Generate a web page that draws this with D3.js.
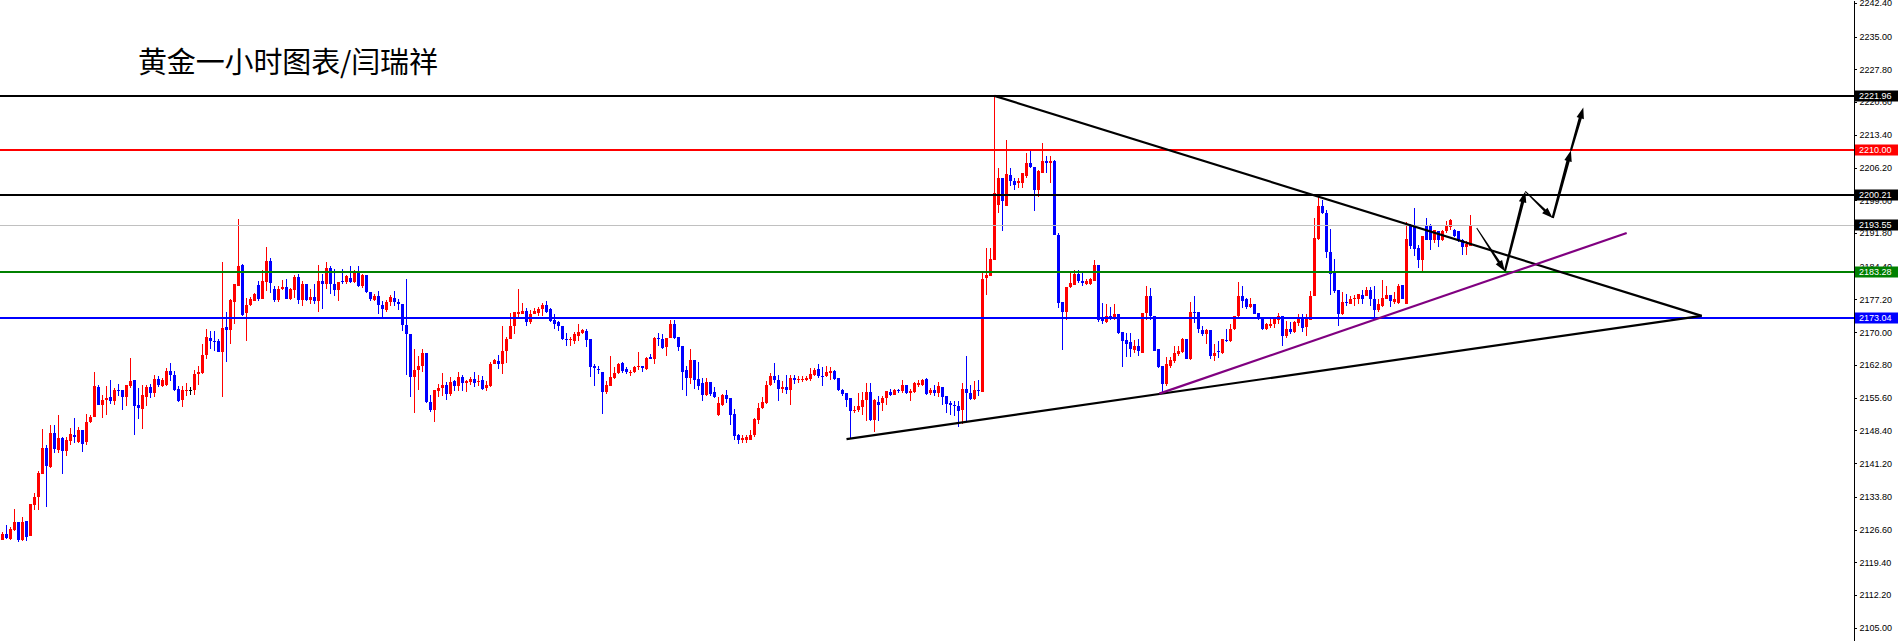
<!DOCTYPE html>
<html><head><meta charset="utf-8">
<script src="https://cdn.jsdelivr.net/npm/d3@7"></script>
<style>html,body{margin:0;padding:0;background:#fff;overflow:hidden}</style>
</head><body>
<svg id="chart" width="1898" height="641"></svg>
<script>
const title = "黄金一小时图表/闫瑞祥";

const opens = [
2124.3,2125.7,2124.6,2126.6,2128.2,2124.4,2128.4,2125.1,2131.9,2133.7,
2138.9,2144.6,2140.4,2147.9,2144.2,2146.8,2143.8,2146.0,2147.5,2145.8,
2148.6,2145.8,2150.2,2151.4,2158.0,2154.0,2155.0,2155.8,2154.8,2157.4,
2157.4,2155.8,2158.1,2159.4,2153.9,2153.2,2155.8,2158.0,2156.6,2159.7,
2158.1,2158.5,2161.5,2160.7,2157.5,2155.2,2157.2,2157.2,2157.2,2160.9,
2161.0,2164.9,2168.7,2168.0,2168.1,2165.6,2171.1,2170.4,2176.7,2180.2,
2184.8,2174.2,2176.0,2176.9,2180.4,2177.2,2181.0,2185.6,2179.6,2177.0,
2179.4,2179.9,2177.3,2179.2,2182.1,2177.0,2180.5,2177.0,2177.7,2176.8,
2181.3,2180.7,2184.1,2180.7,2179.2,2181.2,2181.0,2181.9,2181.0,2183.4,
2180.1,2182.6,2178.8,2177.0,2178.0,2176.0,2174.9,2176.6,2177.5,2176.6,
2176.2,2171.6,2169.5,2160.2,2161.6,2162.6,2165.5,2154.7,2153.0,2157.0,
2157.7,2158.5,2156.4,2159.2,2158.1,2160.2,2158.8,2159.0,2159.7,2159.0,
2159.6,2157.7,2158.1,2163.1,2163.7,2163.1,2165.8,2168.5,2171.3,2173.9,
2174.1,2174.7,2172.2,2174.0,2174.2,2175.0,2176.0,2175.0,2172.6,2172.2,
2171.4,2168.6,2168.4,2168.0,2169.2,2169.8,2170.3,2168.4,2162.6,2162.0,
2161.3,2156.8,2158.2,2159.9,2161.0,2163.2,2161.9,2161.2,2161.2,2162.3,
2162.5,2161.9,2164.6,2164.0,2168.7,2168.6,2166.7,2168.7,2171.7,2168.9,
2166.9,2161.6,2159.9,2163.9,2159.7,2158.8,2156.3,2159.1,2156.9,2151.9,
2154.1,2156.1,2155.5,2152.1,2147.5,2146.2,2146.4,2146.4,2147.3,2150.8,
2153.3,2154.4,2158.3,2160.3,2159.6,2157.5,2157.9,2157.4,2159.9,2159.4,
2159.4,2159.6,2159.7,2160.7,2162.0,2160.4,2160.3,2161.0,2161.4,2159.9,
2157.4,2156.6,2155.5,2152.6,2152.8,2153.6,2155.0,2156.8,2150.8,2154.6,
2154.4,2155.5,2156.8,2156.3,2157.4,2157.0,2158.5,2156.6,2156.8,2158.5,
2158.5,2159.7,2156.6,2157.2,2156.6,2157.9,2155.9,2154.4,2154.1,2153.7,
2152.8,2157.5,2156.6,2155.3,2157.4,2156.8,2181.9,2182.4,2185.9,2198.0,
2203.9,2197.7,2204.6,2203.3,2202.8,2202.8,2204.3,2207.2,2206.4,2201.2,
2205.1,2207.6,2207.3,2207.6,2191.4,2176.6,2174.4,2179.9,2180.4,2182.9,
2181.3,2180.7,2180.7,2181.3,2184.8,2173.0,2172.2,2173.5,2172.9,2174.0,
2170.0,2168.2,2167.8,2166.0,2167.0,2165.4,2174.2,2177.9,2173.5,2166.2,
2162.5,2158.7,2162.6,2163.6,2165.1,2165.6,2168.4,2164.1,2174.4,2174.4,
2170.4,2169.5,2170.4,2164.7,2165.8,2165.4,2168.2,2168.0,2170.6,2173.5,
2178.0,2177.2,2175.5,2176.1,2174.2,2173.1,2170.6,2171.4,2171.7,2172.6,
2173.6,2169.1,2170.6,2170.0,2172.0,2172.9,2171.1,2172.6,2177.9,2190.5,
2197.7,2196.2,2187.6,2183.0,2179.2,2173.9,2176.6,2176.3,2177.3,2177.3,
2178.2,2178.0,2179.3,2177.2,2174.8,2175.7,2177.3,2178.2,2176.6,2176.4,
2180.4,2176.3,2193.6,2193.6,2188.5,2185.8,2193.4,2193.3,2190.2,2192.2,
2190.2,2192.2,2193.1,2192.4,2192.2,2190.3,2188.7,2189.0];

const highs = [
2126.0,2127.7,2127.2,2131.1,2128.2,2129.4,2128.4,2132.3,2134.7,2139.4,
2148.8,2145.3,2149.5,2149.5,2151.9,2147.0,2147.0,2149.0,2151.1,2149.1,
2148.6,2152.0,2151.9,2161.2,2158.5,2156.3,2158.1,2159.6,2157.7,2158.7,
2157.4,2158.5,2164.4,2159.6,2157.7,2158.5,2158.4,2158.7,2160.7,2160.3,
2159.9,2162.1,2163.2,2161.4,2158.1,2158.1,2158.8,2158.0,2161.8,2162.5,
2167.3,2170.7,2170.3,2170.2,2168.4,2185.4,2174.5,2177.3,2180.7,2195.0,
2185.0,2177.5,2177.7,2178.6,2181.3,2183.7,2188.8,2186.3,2180.2,2180.2,
2181.4,2181.6,2179.7,2182.6,2182.9,2181.3,2180.5,2179.4,2180.5,2184.8,
2182.9,2185.5,2184.5,2183.9,2181.1,2183.9,2182.6,2184.6,2183.7,2184.5,
2182.9,2182.6,2178.8,2178.5,2179.0,2176.9,2177.0,2178.2,2179.0,2177.4,
2176.2,2181.8,2169.7,2166.2,2164.7,2166.2,2165.5,2156.3,2157.2,2158.7,
2161.0,2159.0,2160.2,2159.6,2161.3,2160.5,2159.6,2160.2,2161.3,2160.5,
2160.3,2159.2,2163.4,2164.1,2165.0,2171.4,2168.9,2174.2,2174.5,2179.6,
2176.4,2175.3,2174.8,2175.3,2175.5,2176.4,2176.8,2175.3,2174.0,2172.4,
2171.4,2169.8,2168.9,2170.0,2171.7,2170.7,2170.6,2168.4,2163.1,2162.5,
2161.3,2159.2,2164.8,2162.3,2163.2,2163.4,2162.3,2161.8,2162.5,2165.7,
2162.5,2164.6,2165.3,2168.9,2169.8,2169.5,2168.7,2172.6,2172.6,2169.0,
2167.0,2162.5,2166.4,2163.9,2163.4,2159.9,2159.9,2159.1,2158.0,2155.8,
2156.5,2157.2,2155.5,2153.2,2147.6,2147.5,2147.5,2148.6,2151.1,2154.4,
2155.8,2159.2,2161.0,2163.2,2160.7,2159.2,2160.7,2160.7,2160.7,2160.3,
2160.3,2160.3,2162.1,2162.1,2162.9,2162.4,2162.5,2162.4,2161.8,2159.9,
2157.5,2156.6,2155.5,2153.7,2156.6,2156.8,2158.8,2158.8,2155.3,2155.9,
2155.9,2157.0,2157.5,2157.5,2157.5,2159.4,2158.5,2157.5,2159.0,2159.4,
2159.7,2159.9,2157.7,2158.3,2159.1,2157.9,2155.9,2154.8,2154.8,2154.8,
2158.8,2164.7,2158.5,2159.2,2159.4,2183.5,2188.5,2188.5,2221.96,2206.1,
2203.9,2212.3,2206.1,2203.9,2203.9,2205.1,2209.4,2209.8,2206.4,2205.7,
2211.7,2208.8,2208.8,2207.9,2191.8,2176.6,2179.9,2183.4,2183.7,2183.6,
2183.0,2181.7,2181.9,2185.9,2184.8,2176.4,2176.1,2175.5,2176.1,2174.0,
2170.0,2169.8,2169.8,2168.2,2168.4,2174.2,2180.1,2179.7,2173.5,2166.2,
2162.5,2164.6,2164.6,2167.0,2166.9,2168.7,2168.4,2176.6,2178.0,2174.4,
2171.4,2170.6,2170.4,2167.3,2168.0,2168.5,2170.7,2171.7,2173.6,2181.0,
2180.2,2177.5,2177.5,2176.3,2174.2,2173.1,2172.0,2173.1,2173.1,2174.2,
2173.6,2172.4,2172.2,2172.4,2173.9,2173.9,2173.9,2179.0,2195.1,2199.7,
2199.0,2196.9,2192.7,2186.1,2179.2,2178.8,2178.5,2178.0,2178.2,2178.5,
2179.3,2179.9,2180.0,2180.2,2177.3,2181.5,2180.2,2178.2,2178.8,2180.7,
2180.4,2194.2,2193.9,2197.3,2189.2,2191.2,2195.1,2193.9,2192.5,2192.2,
2192.5,2194.4,2194.9,2192.7,2192.2,2190.5,2190.0,2195.8];

const lows = [
2124.2,2124.6,2124.4,2126.2,2123.8,2124.0,2124.0,2125.1,2131.0,2131.0,
2138.9,2131.5,2140.1,2143.5,2143.5,2138.9,2142.7,2145.3,2145.7,2145.7,
2143.6,2145.1,2150.1,2151.4,2153.9,2151.1,2151.8,2154.3,2153.9,2155.9,
2152.8,2153.7,2157.7,2147.5,2151.0,2148.8,2153.7,2155.5,2155.7,2158.0,
2157.9,2158.1,2159.2,2157.0,2154.6,2153.5,2155.9,2156.1,2156.1,2158.5,
2160.9,2164.1,2166.2,2165.8,2165.6,2155.7,2163.4,2167.5,2171.9,2180.1,
2173.5,2168.0,2175.8,2176.8,2176.8,2177.2,2179.0,2178.6,2176.6,2176.6,
2179.2,2177.2,2177.0,2177.5,2176.3,2175.7,2176.8,2176.3,2176.3,2174.4,
2175.2,2179.6,2178.3,2177.9,2176.8,2180.5,2180.7,2180.8,2180.8,2179.9,
2179.7,2178.6,2176.8,2176.8,2173.9,2173.1,2174.4,2175.7,2175.8,2174.9,
2170.2,2160.7,2155.8,2152.2,2157.2,2161.2,2154.4,2152.5,2150.2,2155.7,
2155.9,2155.2,2156.0,2157.0,2157.0,2157.0,2156.8,2158.4,2158.0,2158.1,
2157.4,2157.0,2158.0,2162.9,2161.9,2160.9,2163.2,2168.4,2169.5,2172.8,
2173.9,2171.3,2171.9,2173.9,2173.6,2173.6,2174.2,2172.2,2170.8,2170.3,
2168.2,2167.0,2167.0,2167.5,2168.0,2169.7,2166.7,2160.1,2158.1,2160.9,
2152.1,2156.5,2158.2,2159.7,2160.9,2161.0,2160.9,2160.4,2161.0,2161.8,
2161.2,2161.6,2164.0,2163.1,2166.9,2166.3,2164.8,2168.7,2168.4,2165.8,
2157.2,2156.0,2158.7,2157.5,2157.4,2154.8,2156.0,2155.9,2155.5,2151.5,
2153.7,2154.4,2149.7,2146.2,2145.5,2145.7,2145.7,2146.2,2147.0,2149.9,
2153.1,2154.3,2158.2,2158.8,2154.9,2156.6,2156.5,2154.1,2158.7,2158.8,
2159.0,2159.2,2159.2,2160.3,2159.9,2158.1,2160.2,2159.6,2159.6,2157.0,
2155.9,2153.6,2146.5,2152.2,2152.4,2151.9,2150.4,2150.4,2148.0,2150.4,
2152.6,2154.1,2155.9,2156.1,2156.6,2156.6,2156.5,2154.8,2156.6,2157.9,
2158.2,2156.3,2156.3,2155.9,2155.8,2153.9,2152.2,2151.9,2151.5,2149.2,
2149.9,2150.4,2155.0,2155.2,2155.9,2156.8,2178.1,2182.3,2185.9,2196.2,
2192.2,2197.7,2202.2,2201.3,2201.7,2201.7,2203.9,2206.1,2196.6,2199.7,
2205.0,2205.0,2202.9,2191.4,2175.3,2166.0,2172.7,2179.7,2180.3,2180.8,
2180.2,2180.4,2180.4,2181.2,2172.2,2171.7,2172.0,2172.6,2172.7,2169.5,
2162.4,2164.6,2164.6,2165.4,2164.7,2165.4,2172.7,2172.7,2165.8,2162.1,
2156.8,2158.1,2162.1,2163.2,2164.7,2165.4,2164.0,2163.8,2172.0,2169.8,
2169.1,2167.5,2164.0,2163.6,2164.3,2165.3,2167.8,2167.8,2170.4,2173.3,
2175.3,2175.1,2175.3,2173.9,2172.6,2170.4,2170.4,2170.9,2170.9,2171.7,
2167.0,2168.7,2169.7,2169.8,2171.3,2170.0,2169.2,2172.6,2177.9,2190.3,
2196.0,2186.3,2178.1,2178.6,2171.3,2173.7,2175.7,2176.1,2175.8,2176.1,
2176.3,2177.9,2175.7,2173.1,2174.4,2175.5,2177.2,2175.5,2176.3,2176.1,
2177.2,2176.3,2188.3,2186.8,2184.1,2183.4,2190.2,2188.0,2189.6,2188.7,
2190.0,2191.8,2192.5,2190.9,2189.8,2187.0,2187.0,2188.9];

const closes = [
2125.7,2124.7,2126.8,2128.2,2124.4,2128.2,2125.0,2132.2,2133.8,2139.1,
2144.6,2140.5,2147.9,2144.3,2146.8,2143.8,2146.4,2147.6,2146.9,2148.6,
2145.5,2150.3,2151.4,2158.1,2154.1,2155.2,2155.6,2154.8,2157.4,2157.2,
2155.8,2158.3,2159.2,2153.7,2153.3,2156.1,2158.0,2156.6,2159.7,2158.3,
2159.6,2161.5,2160.5,2157.4,2154.8,2157.4,2157.4,2157.2,2160.9,2161.3,
2164.9,2168.9,2168.0,2167.9,2165.6,2171.0,2170.4,2177.0,2180.5,2184.6,
2173.7,2176.0,2177.2,2178.4,2177.2,2181.2,2185.7,2180.8,2177.0,2179.5,
2179.9,2177.3,2179.4,2182.1,2177.0,2180.5,2177.0,2177.7,2176.8,2181.3,
2180.7,2184.1,2180.5,2179.2,2181.1,2181.0,2182.4,2181.0,2183.5,2180.1,
2182.6,2178.8,2177.2,2178.0,2176.0,2175.1,2176.7,2177.7,2176.6,2176.1,
2171.6,2169.5,2160.2,2161.8,2162.6,2165.5,2154.6,2153.0,2157.2,2157.7,
2158.5,2156.5,2159.0,2158.1,2160.2,2158.8,2159.2,2159.7,2158.8,2159.3,
2157.5,2158.3,2163.1,2163.8,2163.1,2165.9,2168.6,2171.4,2174.4,2174.4,
2174.6,2172.2,2174.1,2174.6,2175.2,2176.0,2174.4,2172.4,2171.9,2171.3,
2168.4,2168.5,2168.6,2169.5,2170.0,2170.4,2168.2,2162.3,2162.1,2161.6,
2156.8,2158.5,2160.1,2161.0,2163.1,2161.4,2161.2,2161.3,2162.4,2162.5,
2162.1,2164.3,2164.1,2168.7,2168.5,2166.5,2168.7,2171.7,2168.7,2166.7,
2161.3,2159.9,2163.9,2159.6,2158.2,2156.3,2159.1,2156.5,2155.7,2154.4,
2156.1,2155.4,2151.9,2147.1,2146.2,2146.8,2147.0,2147.5,2150.9,2153.3,
2154.6,2158.5,2160.3,2159.4,2157.5,2157.9,2157.4,2159.9,2159.6,2159.7,
2159.8,2159.9,2160.9,2161.8,2160.3,2160.2,2161.2,2161.4,2159.8,2157.2,
2156.4,2155.2,2152.6,2153.0,2153.7,2155.2,2156.8,2150.8,2155.2,2154.1,
2155.5,2157.0,2156.3,2157.4,2157.0,2158.5,2156.6,2157.0,2158.8,2158.8,
2159.6,2156.5,2157.2,2156.6,2158.1,2155.8,2154.3,2154.1,2153.7,2152.6,
2157.5,2156.6,2155.3,2157.4,2157.0,2181.8,2182.6,2186.1,2200.6,2204.0,
2198.8,2204.8,2203.2,2202.4,2203.2,2205.0,2207.2,2206.3,2201.2,2205.4,
2207.6,2207.3,2207.6,2191.4,2176.4,2174.4,2179.9,2180.8,2182.9,2181.2,
2180.8,2181.2,2181.6,2184.8,2172.7,2172.4,2173.5,2172.9,2174.1,2169.8,
2168.0,2167.5,2166.2,2167.0,2165.8,2174.2,2177.9,2173.5,2165.8,2162.4,
2158.7,2162.9,2163.8,2165.4,2165.8,2168.4,2164.1,2174.4,2174.2,2170.6,
2169.5,2170.4,2164.7,2165.4,2165.6,2168.4,2168.0,2170.7,2173.6,2178.0,
2176.8,2175.5,2176.1,2174.1,2172.8,2170.6,2171.7,2171.9,2172.8,2173.5,
2169.1,2170.6,2170.0,2172.2,2172.8,2170.9,2172.8,2178.0,2190.7,2197.7,
2196.2,2187.6,2182.8,2179.0,2173.9,2176.6,2176.4,2177.3,2177.6,2178.5,
2177.2,2179.3,2177.3,2174.8,2176.1,2177.5,2178.2,2176.8,2177.4,2180.2,
2177.3,2190.5,2188.9,2188.3,2185.8,2191.2,2190.3,2190.2,2192.5,2190.2,
2192.2,2193.3,2194.7,2191.2,2190.2,2188.7,2189.3,2193.3];

const tickValues = [2242.40,2235.00,2227.80,2220.60,2213.40,2206.20,2199.00,2191.80,2184.40,2177.20,
                    2170.00,2162.80,2155.60,2148.40,2141.20,2133.80,2126.60,2119.40,2112.20,2105.00];
const tickLabels = ["2242.40","2235.00","2227.80","2220.60","2213.40","2206.20","2199.00","2191.80","2184.40","2177.20",
                    "2170.00","2162.80","2155.60","2148.40","2141.20","2133.80","2126.60","2119.40","2112.20","2105.00"];

const levelValues = [2221.96, 2210.00, 2200.21, 2193.55, 2183.28, 2173.04];
const levelLabels = ["2221.96","2210.00","2200.21","2193.55","2183.28","2173.04"];

// trend lines: [bar index, price]
const trendFrom = [[248, 2221.96], [211, 2146.5], [289.2, 2156.5]];
const trendTo   = [[424.8, 2173.6], [424.8, 2173.6], [406.05, 2191.8]];

// forecast arrows: [bar index, price]
const arrowFrom = [[368.55, 2192.9], [375.6, 2183.4], [380.7, 2200.95], [387.55, 2195.1], [392.1, 2209.96]];
const arrowTo   = [[375.6, 2183.4], [380.7, 2200.95], [387.55, 2195.1], [392.1, 2209.96], [395.2, 2219.4]];

// ---------- styles ----------
const levelColors = ["#000000","#ff0000","#000000","#c0c0c0","#008000","#0000ff"];
const levelBoxColors = ["#000000","#ff0000","#000000","#000000","#008000","#0000ff"];
const levelWidths = [2,2,2,1,2,2];
const trendColors = ["#000000","#000000","#800080"];
const arrowW0 = [1, 2.2, 1, 2.4, 2.2];
const arrowW1 = [2.6, 3.2, 2.6, 3.4, 3.2];

const W = 1898, H = 641, axisX = 1853.5;
const svg = d3.select("#chart");
svg.append("rect").attr("width", W).attr("height", H).attr("fill", "#fff");

const x = d3.scaleLinear().domain([0, 367]).range([2.5, 1470.5]);
const y = d3.scaleLinear().domain([2102.1, 2243.05]).range([H, 0]);

// title
svg.append("text").attr("x", 138).attr("y", 73)
  .attr("font-family", "'Noto Sans CJK SC', 'Noto Sans', sans-serif")
  .attr("font-size", 29).attr("fill", "#000")
  .attr("textLength", 300).attr("lengthAdjust", "spacing")
  .text(title);

// candles
const data = opens.map((o, i) => ({ i, o, h: highs[i], l: lows[i], c: closes[i] }));
const colorOf = d => d.c > d.o ? "#ff0000" : (d.c < d.o ? "#0000ff" : "#000000");
const cg = svg.append("g").attr("shape-rendering", "crispEdges");
cg.selectAll("rect.wick").data(data).enter().append("rect")
  .attr("class", "wick")
  .attr("x", d => Math.round(x(d.i) - 0.5))
  .attr("y", d => Math.round(y(d.h)))
  .attr("width", 1)
  .attr("height", d => Math.max(1, Math.round(y(d.l)) - Math.round(y(d.h))))
  .attr("fill", colorOf);
cg.selectAll("rect.body").data(data).enter().append("rect")
  .attr("class", "body")
  .attr("x", d => Math.round(x(d.i) - 1.5))
  .attr("y", d => Math.round(y(Math.max(d.o, d.c))))
  .attr("width", 3)
  .attr("height", d => Math.max(1, Math.round(y(Math.min(d.o, d.c))) - Math.round(y(Math.max(d.o, d.c)))))
  .attr("fill", colorOf);

// horizontal levels
const lg = svg.append("g").attr("shape-rendering", "crispEdges");
levelValues.forEach((v, k) => {
  const yy = Math.round(y(v)) + (levelWidths[k] === 1 ? 0.5 : 0);
  lg.append("line").attr("x1", 0).attr("x2", axisX).attr("y1", yy).attr("y2", yy)
    .attr("stroke", levelColors[k]).attr("stroke-width", levelWidths[k]);
});

// trend lines
trendFrom.forEach((p, k) => {
  svg.append("line")
    .attr("x1", x(p[0])).attr("y1", y(p[1]))
    .attr("x2", x(trendTo[k][0])).attr("y2", y(trendTo[k][1]))
    .attr("stroke", trendColors[k]).attr("stroke-width", 2.2);
});

// arrows
function arrowPoly(x0, y0, x1, y1, w0, w1, hl, hw) {
  const dx = x1 - x0, dy = y1 - y0, len = Math.hypot(dx, dy);
  const ux = dx / len, uy = dy / len, px = -uy, py = ux;
  const bx = x1 - ux * hl, by = y1 - uy * hl;
  return [
    [x0 + px * w0 / 2, y0 + py * w0 / 2],
    [bx + px * w1 / 2, by + py * w1 / 2],
    [bx + px * hw, by + py * hw],
    [x1, y1],
    [bx - px * hw, by - py * hw],
    [bx - px * w1 / 2, by - py * w1 / 2],
    [x0 - px * w0 / 2, y0 - py * w0 / 2]
  ];
}
arrowFrom.forEach((p, k) => {
  const pts = arrowPoly(x(p[0]), y(p[1]), x(arrowTo[k][0]), y(arrowTo[k][1]), arrowW0[k], arrowW1[k], 11, 3.8);
  svg.append("polygon").attr("points", pts.map(q => q.join(",")).join(" ")).attr("fill", "#000");
});

// right price axis
const axis = d3.axisRight(y).tickValues(tickValues)
  .tickFormat((d, i) => tickLabels[i]).tickSize(3).tickSizeOuter(0).tickPadding(3);
const ag = svg.append("g").attr("transform", `translate(${axisX},0)`).call(axis);
ag.select(".domain").attr("stroke", "#000").attr("shape-rendering", "crispEdges");
ag.selectAll(".tick line").attr("stroke", "#000").attr("shape-rendering", "crispEdges");
ag.selectAll(".tick text").attr("font-family", "'Liberation Sans', Arial, sans-serif")
  .attr("font-size", 9).attr("fill", "#000");

// level labels on axis
levelValues.forEach((v, k) => {
  const yy = Math.round(y(v));
  svg.append("rect").attr("x", 1855).attr("y", yy - 5.5).attr("width", 43).attr("height", 11)
    .attr("fill", levelBoxColors[k]);
  svg.append("text").attr("x", 1859).attr("y", yy).attr("dy", "0.35em")
    .attr("font-family", "'Liberation Sans', Arial, sans-serif").attr("font-size", 9)
    .attr("fill", "#fff").text(levelLabels[k]);
});
</script>
</body></html>
